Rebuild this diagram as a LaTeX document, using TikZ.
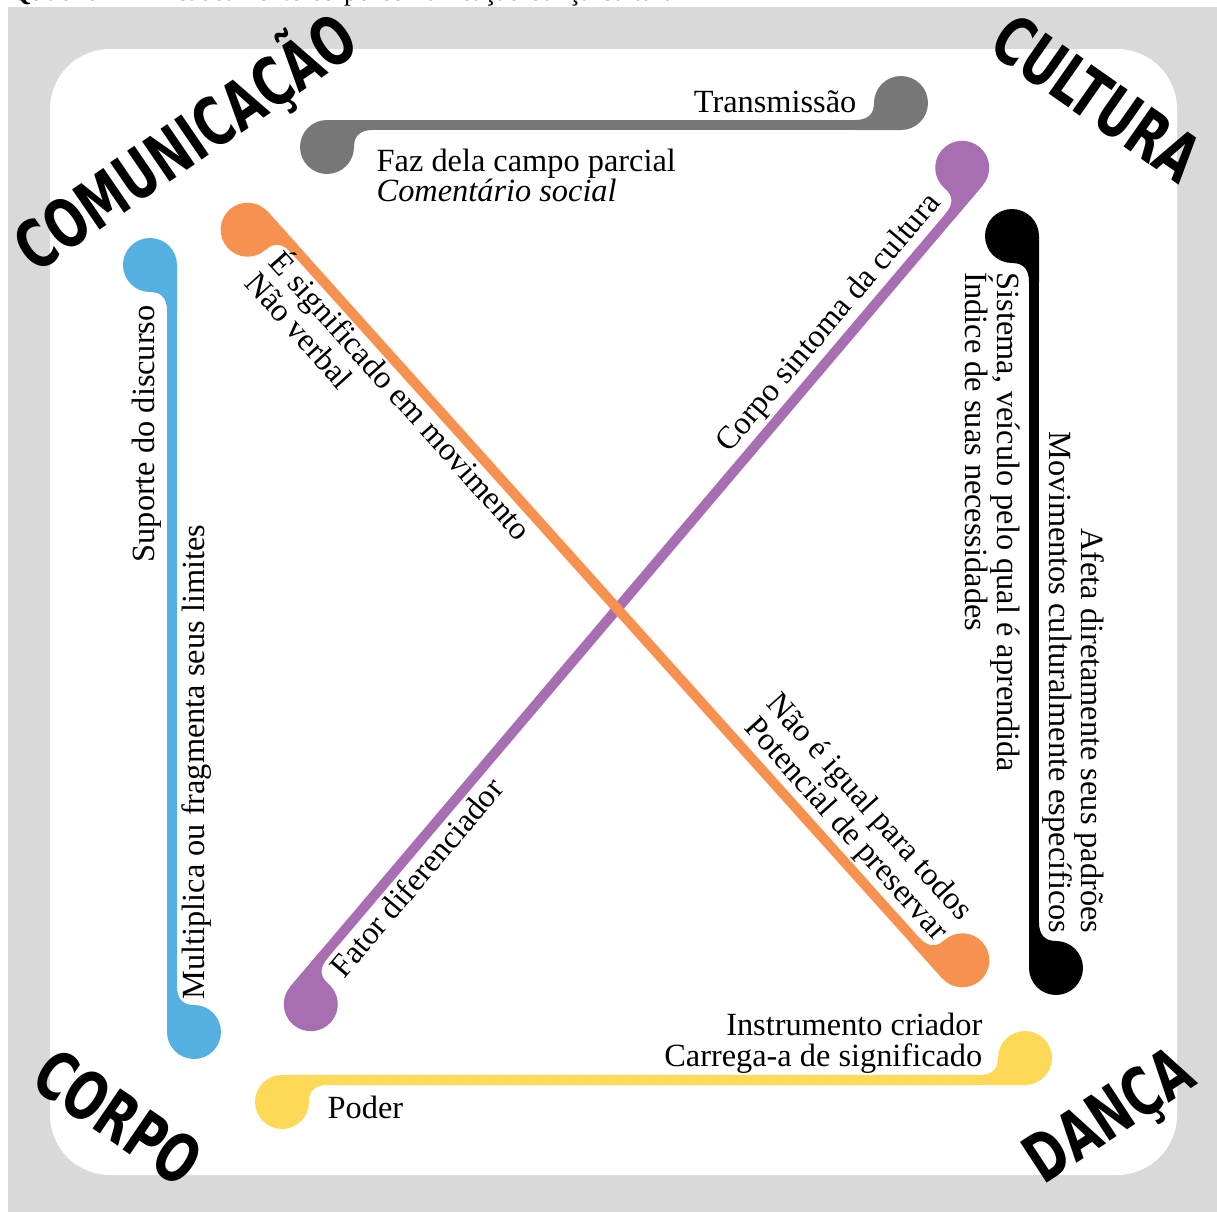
\documentclass[tikz,border=0pt]{standalone}
\usepackage{fontspec}
\setmainfont{Liberation Serif}
\newfontfamily\cornerfont{DejaVu Sans Condensed}
\usepackage{tikz}

\definecolor{bggray}{HTML}{D9D9D9}
\definecolor{spgray}{HTML}{777777}
\definecolor{spblue}{HTML}{55B0E2}
\definecolor{sporange}{HTML}{F69150}
\definecolor{sppurple}{HTML}{A86EB2}
\definecolor{spyellow}{HTML}{FDD957}

\tikzset{
  spoonend/.pic={
    \fill (0,-22) circle[radius=27];
    \fill (0,5) -- (46,5) -- (46,-5) .. controls (34,-5) and (27,-10) .. (27,-22) -- (0,-22) -- cycle;
  },
  stem/.style={line width=0.1cm},
  lbl/.style={inner sep=0pt, font=\fontsize{9.2}{9.2}\selectfont},
  corner/.style={inner sep=0pt, text height=13.9pt, text depth=0pt,
    font=\cornerfont\bfseries\fontsize{19}{19}\selectfont}
}

\begin{document}
\begin{tikzpicture}[x=0.01cm, y=0.01cm]
    \useasboundingbox (0,0) rectangle (1217,-1212);
    % frame
    \fill[bggray] (8,-7) rectangle (1217,-1212);
    \fill[white, rounded corners=0.6cm] (50,-49) rectangle (1177,-1175);
    % caption, cut by the page edge
    \node[lbl, anchor=base west, font=\fontsize{7.6}{7.6}\selectfont] (caption) at (10,-1)
        {\textbf{Quadro 2} -- Encadeamento corpo-comunicação-dança-cultura};

    % spoon ends
    \coordinate (gA) at (327,-125);  \coordinate (gB) at (901,-125);
    \coordinate (bA) at (172,-265);  \coordinate (bB) at (172,-1032);
    \coordinate (pA) at (979,-182);  \coordinate (pB) at (294,-990);
    \coordinate (oA) at (264,-215);  \coordinate (oB) at (946,-975);
    \coordinate (kA) at (1034,-236); \coordinate (kB) at (1034,-968);
    \coordinate (yA) at (282,-1080); \coordinate (yB) at (1025,-1080);

    % gray: top
    \draw[stem, spgray] (gA) -- (gB);
    \pic[spgray] at (gA) {spoonend};
    \pic[spgray, rotate=180] at (gB) {spoonend};
    % blue: left
    \draw[stem, spblue] (bA) -- (bB);
    \pic[spblue, rotate=-90] at (bA) {spoonend};
    \pic[spblue, rotate=90] at (bB) {spoonend};
    % purple: rising diagonal
    \draw[stem, sppurple] (pA) -- (pB);
    \pic[sppurple, rotate=-130.3] at (pA) {spoonend};
    \pic[sppurple, rotate=49.7] at (pB) {spoonend};
    % orange: falling diagonal
    \draw[stem, sporange] (oA) -- (oB);
    \pic[sporange, rotate=-48.1] at (oA) {spoonend};
    \pic[sporange, rotate=131.9] at (oB) {spoonend};
    % black: right
    \draw[stem, black] (kA) -- (kB);
    \pic[black, rotate=-90] at (kA) {spoonend};
    \pic[black, rotate=90] at (kB) {spoonend};
    % yellow: bottom
    \draw[stem, spyellow] (yA) -- (yB);
    \pic[spyellow] at (yA) {spoonend};
    \pic[spyellow, rotate=180] at (yB) {spoonend};

    % labels along the spoons
    \node[lbl, anchor=base east] (transm) at (857,-112) {Transmissão};
    \node[lbl, anchor=base west] (fazdela) at (376,-171) {Faz dela campo parcial};
    \node[lbl, anchor=base west] (coment) at (376,-201) {\textit{Comentário social}};

    \node[lbl, anchor=base west, rotate=90] (suporte) at (154,-563) {Suporte do discurso};
    \node[lbl, anchor=base west, rotate=90] (multi) at (205,-1000) {Multiplica ou fragmenta seus limites};

    \node[lbl, anchor=base west, rotate=-48.1] (signif) at (267,-263) {É significado em movimento};
    \node[lbl, anchor=base west, rotate=-48.1] (naoverbal) at (243,-284) {Não verbal};
    \node[lbl, anchor=base east, rotate=-48.1] (naoigual) at (960,-922) {Não é igual para todos};
    \node[lbl, anchor=base east, rotate=-48.1] (potencial) at (936,-943) {Potencial de preservar};

    \node[lbl, anchor=base east, rotate=49.7] (sintoma) at (942,-203) {Corpo sintoma da cultura};
    \node[lbl, anchor=base west, rotate=49.7] (fator) at (344,-980) {Fator diferenciador};

    \node[lbl, anchor=base west, rotate=-90] (sistema) at (997,-272) {Sistema, veículo pelo qual é aprendida};
    \node[lbl, anchor=base west, rotate=-90] (indice) at (965,-272) {Índice de suas necessidades};
    \node[lbl, anchor=base east, rotate=-90] (movim) at (1049,-934) {Movimentos culturalmente específicos};
    \node[lbl, anchor=base east, rotate=-90] (afeta) at (1081,-934) {Afeta diretamente seus padrões};

    \node[lbl, anchor=base east] (instr) at (983,-1035) {Instrumento criador};
    \node[lbl, anchor=base east] (carrega) at (983,-1066) {Carrega-a de significado};
    \node[lbl, anchor=base west] (poder) at (327,-1118) {Poder};

    % corner words
    \node[corner, rotate=34.4] (comunic) at (185,-142) {\scalebox{0.78}[1]{COMUNICAÇÃO}};
    \node[corner, rotate=-35] (cultura) at (1097,-98) {\scalebox{0.78}[1]{CULTURA}};
    \node[corner, rotate=-34.4] (corpo) at (118,-1117) {\scalebox{0.78}[1]{CORPO}};
    \node[corner, rotate=33.2] (danca) at (1108,-1114) {\scalebox{0.78}[1]{DANÇA}};
\end{tikzpicture}
\end{document}
